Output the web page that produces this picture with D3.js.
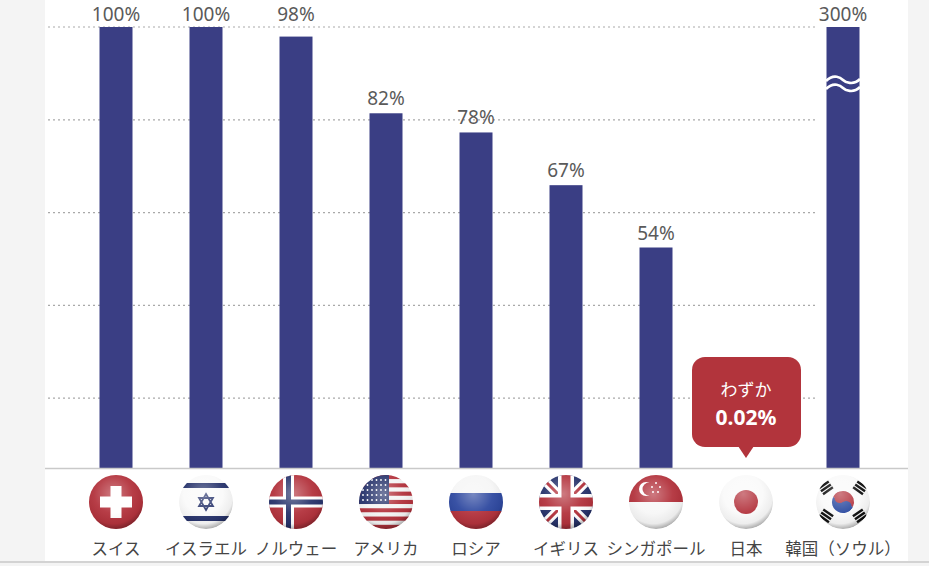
<!DOCTYPE html>
<html>
<head>
<meta charset="utf-8">
<script src="https://cdn.jsdelivr.net/npm/d3@7"></script>
<style>
  body { margin: 0; background: #f4f4f4; }
  svg { display: block; }
</style>
</head>
<body>
<svg id="chart"></svg>
<script>
    // data
    var countries = ["スイス", "イスラエル", "ノルウェー", "アメリカ", "ロシア", "イギリス", "シンガポール", "日本", "韓国（ソウル）"];
    var flagKeys  = ["ch", "il", "no", "us", "ru", "uk", "sg", "jp", "kr"];
    var values    = [100, 100, 98, 82, 78, 67, 54, 0.02, 300];
    var valueLabels = ["100%", "100%", "98%", "82%", "78%", "67%", "54%", "0.02%", "300%"];
    var gridTicks = [100, 80, 60, 40, 20];
    var calloutLines = ["わずか", "0.02%"];

    var width = 929, height = 566;
    var baseY = 468;
    var barColor = "#3a3e84";
    var red = "#b3333d", navy = "#28346c";
    var font = "'Noto Sans CJK JP', 'Noto Sans', sans-serif";

    var svg = d3.select("#chart")
        .attr("width", width)
        .attr("height", height);

    // white panel + bottom rule
    svg.append("rect").attr("x", 45).attr("y", 0).attr("width", 863).attr("height", 561).attr("fill", "#fff");
    svg.append("line").attr("x1", 0).attr("x2", width).attr("y1", 562).attr("y2", 562)
        .attr("stroke", "#c8c8c8").attr("stroke-width", 1.5);

    var x = d3.scalePoint()
        .domain(countries)
        .range([116, 836]);

    // the last bar sits a bit further out, after the gap
    function cx(d) {
        return x(d) + (d === "韓国（ソウル）" ? 7 : 0);
    }

    var y = d3.scaleLinear()
        .domain([8, 100])
        .range([baseY, 27])
        .clamp(true);

    // grid lines sit at even steps of their own
    var yGrid = d3.scaleLinear()
        .domain([0, 100])
        .range([491, 27]);

    svg.append("g").selectAll("line")
        .data(gridTicks)
        .enter().append("line")
        .attr("x1", 48)
        .attr("x2", 818)
        .attr("y1", function (d) { return yGrid(d); })
        .attr("y2", function (d) { return yGrid(d); })
        .attr("stroke", "#a9a9a9")
        .attr("stroke-width", 1.2)
        .attr("stroke-dasharray", "2,3");

    var data = countries.map(function (c, i) {
        return { label: c, value: values[i], text: valueLabels[i], flag: flagKeys[i] };
    });

    svg.selectAll(".bar")
        .data(data)
        .enter().append("rect")
        .attr("class", "bar")
        .attr("x", function (d) { return cx(d.label) - 16.5; })
        .attr("y", function (d) { return y(d.value); })
        .attr("width", 33)
        .attr("height", function (d) { return baseY - y(d.value); })
        .attr("fill", barColor);

    // baseline
    svg.append("line").attr("x1", 45).attr("x2", 908).attr("y1", baseY + 0.5).attr("y2", baseY + 0.5)
        .attr("stroke", "#c9c9c9").attr("stroke-width", 1.5);

    // value labels (not for Japan, it gets the bubble)
    svg.selectAll(".val")
        .data(data.filter(function (d) { return d.flag !== "jp"; }))
        .enter().append("text")
        .attr("class", "val")
        .attr("x", function (d) { return cx(d.label); })
        .attr("y", function (d) {
            var t = y(d.value) - 8;
            return t < 40 ? 21 : t;
        })
        .attr("text-anchor", "middle")
        .attr("font-family", "'Noto Sans', sans-serif")
        .attr("font-size", 19)
        .attr("fill", "#5a5a5a")
        .text(function (d) { return d.text; });

    // break mark on the Korea bar
    var kx = cx("韓国（ソウル）");
    [80, 88].forEach(function (wy) {
        svg.append("path")
            .attr("d", "M" + (kx - 17) + "," + (wy + 1) +
                " C" + (kx - 9) + "," + (wy - 7) + " " + (kx - 2) + "," + (wy - 2) + " " + kx + "," + wy +
                " S" + (kx + 10) + "," + (wy + 6) + " " + (kx + 17) + "," + (wy - 1))
            .attr("fill", "none")
            .attr("stroke", "#fff")
            .attr("stroke-width", 2.6);
    });

    // callout for Japan
    var jx = cx("日本");
    var call = svg.append("g");
    call.append("rect")
        .attr("x", jx - 54).attr("y", 357)
        .attr("width", 109).attr("height", 90)
        .attr("rx", 13)
        .attr("fill", "#b2343c");
    call.append("path")
        .attr("d", "M" + (jx - 8) + ",446 L" + jx + ",458 L" + (jx + 8) + ",446 Z")
        .attr("fill", "#b2343c");
    call.append("text")
        .attr("x", jx).attr("y", 396)
        .attr("text-anchor", "middle")
        .attr("font-family", font).attr("font-size", 17)
        .attr("fill", "#fff")
        .text(calloutLines[0]);
    call.append("text")
        .attr("x", jx).attr("y", 425)
        .attr("text-anchor", "middle")
        .attr("font-family", "'Noto Sans', sans-serif").attr("font-size", 21).attr("font-weight", "bold")
        .attr("fill", "#fff")
        .text(calloutLines[1]);

    // ---------- flags ----------
    var defs = svg.append("defs");
    var R = 27;
    var shine = defs.append("radialGradient").attr("id", "shine")
        .attr("cx", "45%").attr("cy", "35%").attr("r", "65%");
    shine.append("stop").attr("offset", "0%").attr("stop-color", "#fff").attr("stop-opacity", 0.35);
    shine.append("stop").attr("offset", "55%").attr("stop-color", "#fff").attr("stop-opacity", 0.05);
    shine.append("stop").attr("offset", "85%").attr("stop-color", "#000").attr("stop-opacity", 0.05);
    shine.append("stop").attr("offset", "100%").attr("stop-color", "#000").attr("stop-opacity", 0.3);

    defs.append("clipPath").attr("id", "ball")
        .append("circle").attr("r", R);

    function rect(g, x0, y0, w, h, fill) {
        g.append("rect").attr("x", x0).attr("y", y0).attr("width", w).attr("height", h).attr("fill", fill);
    }

    var drawFlag = {
        ch: function (g) {
            rect(g, -R, -R, 2 * R, 2 * R, red);
            rect(g, -5.5, -16, 11, 32, "#fff");
            rect(g, -16, -5.5, 32, 11, "#fff");
        },
        il: function (g) {
            rect(g, -R, -R, 2 * R, 2 * R, "#fafafa");
            rect(g, -R, -19, 2 * R, 5, navy);
            rect(g, -R, 14, 2 * R, 5, navy);
            var t = 8;
            g.append("path").attr("d", "M0," + (-t) + " L" + (t * 0.87) + "," + (t / 2) + " L" + (-t * 0.87) + "," + (t / 2) + "Z" +
                "M0," + t + " L" + (t * 0.87) + "," + (-t / 2) + " L" + (-t * 0.87) + "," + (-t / 2) + "Z")
                .attr("fill", "none").attr("stroke", navy).attr("stroke-width", 1.8);
        },
        no: function (g) {
            rect(g, -R, -R, 2 * R, 2 * R, red);
            rect(g, -13, -R, 11, 2 * R, "#fff");
            rect(g, -R, -5.5, 2 * R, 11, "#fff");
            rect(g, -10, -R, 5, 2 * R, navy);
            rect(g, -R, -2.5, 2 * R, 5, navy);
        },
        us: function (g) {
            for (var i = 0; i < 13; i++) {
                rect(g, -R, -R + i * (2 * R / 13), 2 * R, 2 * R / 13 + 0.3, i % 2 ? "#f4f4f4" : red);
            }
            rect(g, -R, -R, 30, 29, navy);
            for (var a = 0; a < 5; a++) {
                for (var b = 0; b < 6; b++) {
                    g.append("circle").attr("cx", -R + 4 + b * 4.5).attr("cy", -R + 5 + a * 5).attr("r", 0.9).attr("fill", "#fff");
                }
            }
        },
        ru: function (g) {
            rect(g, -R, -R, 2 * R, 2 * R / 3 + 1, "#f6f6f6");
            rect(g, -R, -R / 3, 2 * R, 2 * R / 3 + 1, "#2f49a0");
            rect(g, -R, R / 3, 2 * R, 2 * R / 3, red);
        },
        uk: function (g) {
            rect(g, -R, -R, 2 * R, 2 * R, navy);
            g.append("path").attr("d", "M-27,-27L27,27M27,-27L-27,27").attr("stroke", "#fff").attr("stroke-width", 9);
            g.append("path").attr("d", "M-27,-27L27,27M27,-27L-27,27").attr("stroke", red).attr("stroke-width", 3);
            rect(g, -8, -R, 16, 2 * R, "#fff");
            rect(g, -R, -8, 2 * R, 16, "#fff");
            rect(g, -4.5, -R, 9, 2 * R, red);
            rect(g, -R, -4.5, 2 * R, 9, red);
        },
        sg: function (g) {
            rect(g, -R, -R, 2 * R, 2 * R, "#f7f7f7");
            rect(g, -R, -R, 2 * R, R, red);
            g.append("circle").attr("cx", -10).attr("cy", -13).attr("r", 7).attr("fill", "#fff");
            g.append("circle").attr("cx", -7).attr("cy", -13).attr("r", 6.5).attr("fill", red);
            [[-2, -19], [2, -15], [0, -10], [-5, -10], [-6, -15]].forEach(function (p) {
                g.append("circle").attr("cx", p[0] + 2).attr("cy", p[1]).attr("r", 1).attr("fill", "#fff");
            });
        },
        jp: function (g) {
            rect(g, -R, -R, 2 * R, 2 * R, "#fafafa");
            g.append("circle").attr("r", 12).attr("fill", red);
        },
        kr: function (g) {
            rect(g, -R, -R, 2 * R, 2 * R, "#fafafa");
            g.append("path").attr("d", d3.arc()({ innerRadius: 0, outerRadius: 11, startAngle: -Math.PI * 0.35, endAngle: Math.PI * 0.65 }))
                .attr("fill", red);
            g.append("path").attr("d", d3.arc()({ innerRadius: 0, outerRadius: 11, startAngle: Math.PI * 0.65, endAngle: Math.PI * 1.65 }))
                .attr("fill", "#2b4aa0");
            g.append("circle").attr("cx", -3.1).attr("cy", -4.4).attr("r", 5.5).attr("fill", red);
            g.append("circle").attr("cx", 3.1).attr("cy", 4.4).attr("r", 5.5).attr("fill", "#2b4aa0");
            [[-17, -14, -35], [17, -14, 35], [-17, 14, 35], [17, 14, -35]].forEach(function (t) {
                var tg = g.append("g").attr("transform", "translate(" + t[0] + "," + t[1] + ") rotate(" + t[2] + ")");
                for (var k = 0; k < 3; k++) rect(tg, -6, -5 + k * 3.6, 12, 2.4, "#111");
            });
        }
    };

    var flags = svg.selectAll(".flag")
        .data(data)
        .enter().append("g")
        .attr("class", "flag")
        .attr("transform", function (d) { return "translate(" + cx(d.label) + ",502)"; });

    flags.each(function (d) {
        var inner = d3.select(this).append("g").attr("clip-path", "url(#ball)");
        drawFlag[d.flag](inner);
        inner.append("circle").attr("r", R).attr("fill", "url(#shine)");
    });

    // country names
    svg.selectAll(".name")
        .data(data)
        .enter().append("text")
        .attr("class", "name")
        .attr("x", function (d) { return cx(d.label); })
        .attr("y", 555)
        .attr("text-anchor", "middle")
        .attr("font-family", font)
        .attr("font-size", 16.5)
        .attr("fill", "#454545")
        .text(function (d) { return d.label; });
</script>
</body>
</html>
